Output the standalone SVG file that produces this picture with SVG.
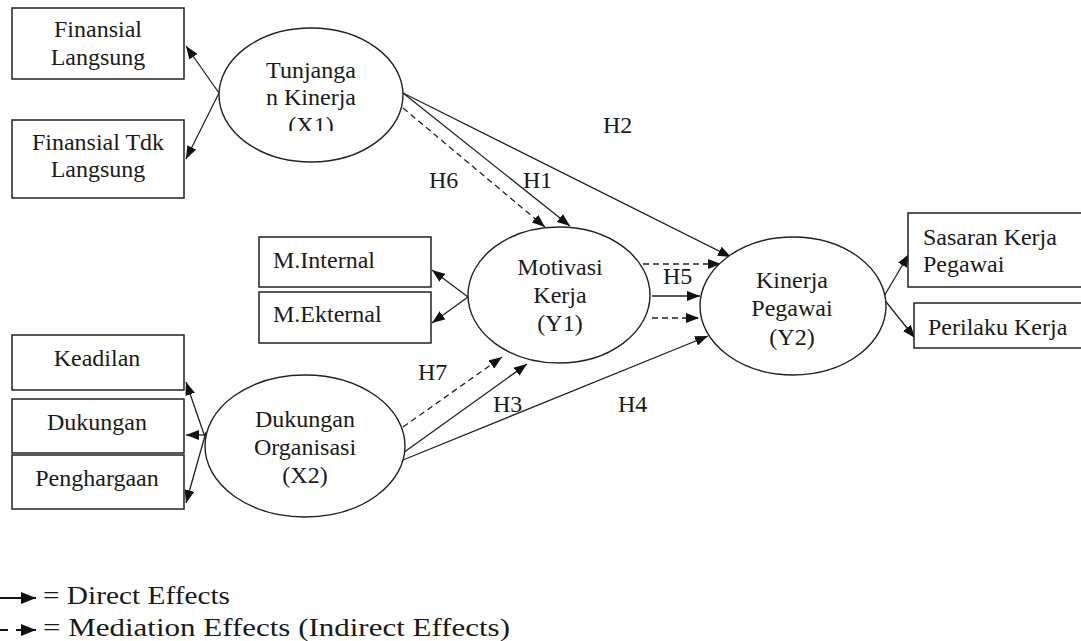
<svg xmlns="http://www.w3.org/2000/svg" width="1081" height="641" viewBox="0 0 1081 641">
<style>
.box{fill:#fff;stroke:#222;stroke-width:1.5}
.ell{fill:#fff;stroke:#222;stroke-width:1.4}
.t{font-size:24px;fill:#1a1a1a}
.c{text-anchor:middle}
.lg{font-size:26px;fill:#1a1a1a}
.ln{fill:none;stroke:#222;stroke-width:1.3;marker-end:url(#ah)}
.lgl{fill:none;stroke:#111;stroke-width:2;marker-end:url(#ah2)}
.ds{stroke-dasharray:6,4}
</style>
<defs>
<marker id="ah" markerWidth="13" markerHeight="10" refX="13" refY="5" orient="auto" markerUnits="userSpaceOnUse">
<path d="M0,0 L13,5 L0,10 z" fill="#111"/>
</marker>
<marker id="ah2" markerWidth="15" markerHeight="12" refX="15" refY="6" orient="auto" markerUnits="userSpaceOnUse">
<path d="M0,0 L15,6 L0,12 z" fill="#111"/>
</marker>
<clipPath id="cx1"><rect x="200" y="20" width="220" height="111"/></clipPath>
</defs>
<rect width="1081" height="641" fill="#fff"/>

<g id="connectors">
<line class="ln" x1="219" y1="93" x2="186" y2="46"/>
<line class="ln" x1="219" y1="93" x2="186" y2="159"/>
<line class="ln" x1="206" y1="440" x2="186" y2="382"/>
<line class="ln" x1="206" y1="435" x2="186" y2="435"/>
<line class="ln" x1="206" y1="432" x2="186" y2="503"/>
<line class="ln" x1="468" y1="297" x2="432" y2="270"/>
<line class="ln" x1="468" y1="297" x2="432" y2="323"/>
<line class="ln" x1="883" y1="298" x2="909" y2="254"/>
<line class="ln" x1="883" y1="298" x2="915" y2="338"/>
<line class="ln" x1="403" y1="93" x2="570" y2="226"/>
<line class="ln ds" x1="403" y1="108" x2="545" y2="227"/>
<line class="ln" x1="403" y1="93" x2="731" y2="257"/>
<line class="ln ds" x1="643" y1="264" x2="721" y2="264"/>
<line class="ln" x1="652" y1="296" x2="700" y2="296"/>
<line class="ln ds" x1="652" y1="318" x2="699" y2="318"/>
<line class="ln ds" x1="403" y1="427" x2="502" y2="357"/>
<line class="ln" x1="403" y1="453" x2="527" y2="364"/>
<line class="ln" x1="403" y1="460" x2="708" y2="336"/>
</g>

<g id="all-text" font-family="'Liberation Serif', 'DejaVu Serif', serif">
<g id="labels">
<text class="t" x="603" y="133">H2</text>
<text class="t" x="429" y="188">H6</text>
<text class="t" x="523" y="188">H1</text>
<text class="t" x="663" y="284">H5</text>
<text class="t" x="418" y="380">H7</text>
<text class="t" x="493" y="412">H3</text>
<text class="t" x="618" y="412">H4</text>
</g>

<g id="finansial-langsung">
<rect class="box" x="12" y="8" width="172" height="71"/>
<text class="t c" x="98" y="37">Finansial</text>
<text class="t c" x="98" y="65">Langsung</text>
</g>
<g id="finansial-tdk-langsung">
<rect class="box" x="12" y="120" width="172" height="78"/>
<text class="t c" x="98" y="150">Finansial Tdk</text>
<text class="t c" x="98" y="177">Langsung</text>
</g>
<g id="x1">
<ellipse class="ell" cx="311" cy="95" rx="92" ry="67"/>
<text class="t c" x="311" y="78">Tunjanga</text>
<text class="t c" x="311" y="105">n Kinerja</text>
<text class="t c" x="311" y="133" clip-path="url(#cx1)">(X1)</text>
</g>

<g id="m-internal">
<rect class="box" x="259" y="237" width="172" height="50"/>
<text class="t" x="273" y="268">M.Internal</text>
</g>
<g id="m-ekternal">
<rect class="box" x="259" y="292" width="172" height="51"/>
<text class="t" x="273" y="322">M.Ekternal</text>
</g>
<g id="y1">
<ellipse class="ell" cx="559" cy="295" rx="91" ry="68"/>
<text class="t c" x="560" y="275">Motivasi</text>
<text class="t c" x="560" y="303">Kerja</text>
<text class="t c" x="560" y="331">(Y1)</text>
</g>

<g id="keadilan">
<rect class="box" x="12" y="335" width="172" height="55"/>
<text class="t c" x="97" y="366">Keadilan</text>
</g>
<g id="dukungan">
<rect class="box" x="12" y="399" width="172" height="54"/>
<text class="t c" x="97" y="430">Dukungan</text>
</g>
<g id="penghargaan">
<rect class="box" x="12" y="455" width="172" height="54"/>
<text class="t c" x="97" y="486">Penghargaan</text>
</g>
<g id="x2">
<ellipse class="ell" cx="305" cy="446" rx="100" ry="71"/>
<text class="t c" x="305" y="427">Dukungan</text>
<text class="t c" x="305" y="455">Organisasi</text>
<text class="t c" x="305" y="483">(X2)</text>
</g>

<g id="y2">
<ellipse class="ell" cx="793" cy="306" rx="93" ry="69"/>
<text class="t c" x="792" y="288">Kinerja</text>
<text class="t c" x="792" y="316">Pegawai</text>
<text class="t c" x="792" y="345">(Y2)</text>
</g>
<g id="sasaran">
<rect class="box" x="908" y="213" width="180" height="74"/>
<text class="t" x="923" y="245">Sasaran Kerja</text>
<text class="t" x="923" y="272">Pegawai</text>
</g>
<g id="perilaku">
<rect class="box" x="914" y="303" width="180" height="45"/>
<text class="t" x="928" y="335">Perilaku Kerja</text>
</g>

<g id="legend">
<line class="lgl" x1="0" y1="598" x2="36" y2="598"/>
<line class="lgl" stroke-dasharray="8,8" x1="0" y1="630" x2="36" y2="630"/>
<text class="lg" x="43" y="604" textLength="187" lengthAdjust="spacingAndGlyphs">= Direct Effects</text>
<text class="lg" x="43" y="636" textLength="467" lengthAdjust="spacingAndGlyphs">= Mediation Effects (Indirect Effects)</text>
</g>
</g>
</svg>
